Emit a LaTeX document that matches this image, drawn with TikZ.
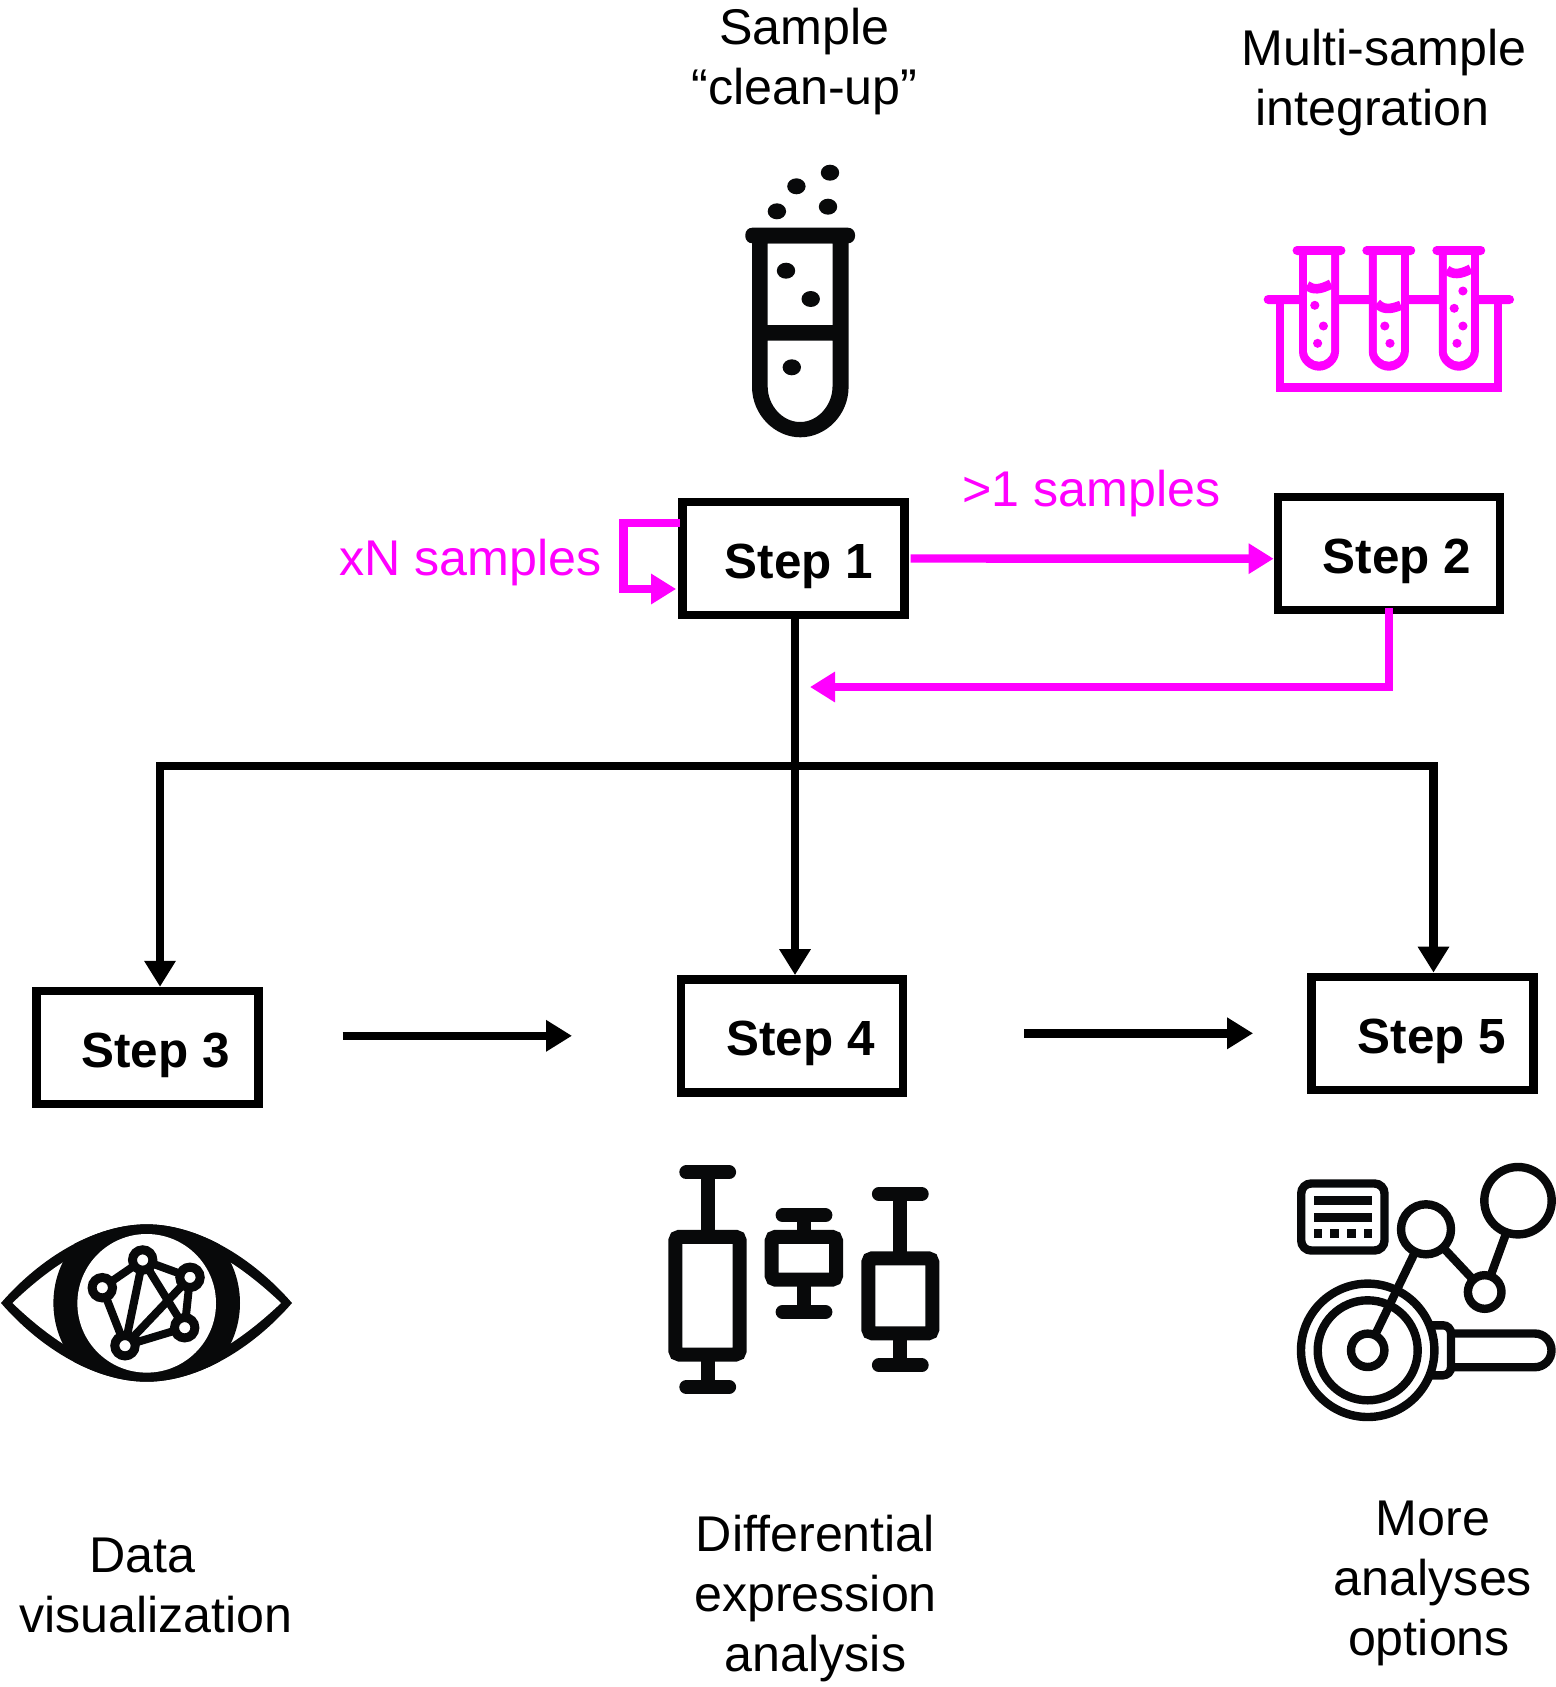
\documentclass[tikz,border=0pt]{standalone}
\usepackage{fontspec}
\setmainfont{Liberation Sans}
\usetikzlibrary{arrows.meta}
\definecolor{iconblack}{HTML}{08090A}
\definecolor{samplepink}{RGB}{255,0,255}
\tikzset{
  caption/.style = {align=center, inner sep=0pt, text=black,
    font=\fontsize{25.1pt}{30pt}\selectfont},
  pinktext/.style = {caption, text=samplepink, anchor=base west},
  stepbox/.style = {rectangle, draw=black, line width=4.2pt, inner sep=0pt,
    minimum width=111pt, minimum height=56.5pt, text height=24pt, text depth=4pt,
    font=\fontsize{24.7pt}{30pt}\selectfont\bfseries,
    execute at begin node={\hspace*{#1pt}}},% text sits right of centre
  flow/.style = {draw=black, line width=4.2pt, -{Triangle[length=13pt,width=15pt]}},
  pinkflow/.style = {draw=samplepink, line width=4.2pt, -{Triangle[length=12.5pt,width=14.5pt]}},
  icon/.style = {draw=iconblack, line width=4.2pt},
  whisker/.style = {draw=iconblack, line width=7pt, line cap=round}
}
\begin{document}
\begin{tikzpicture}[x=0.5pt,y=-0.5pt]
	\useasboundingbox (0,0) rectangle (1556,1687);
	% steps
	\node [stepbox=5.7] (step1) at (793.3,558.5) {Step 1};
	\node [stepbox=8] (step2) at (1388.8,553.2) {Step 2};
	\node [stepbox=8] (step3) at (147.4,1047.5) {Step 3};
	\node [stepbox=8.7] (step4) at (791.8,1035.8) {Step 4};
	\node [stepbox=9.5] (step5) at (1422.5,1033.3) {Step 5};
	% captions
	\node [caption] (cleanup) at (804.5,62) {Sample\\“clean-up”};
	\node [caption] (multi) at (1384,83) {Multi-sample\\integration\hspace*{11.5pt}};
	\node [caption] (dataviz) at (156,1585) {Data\hspace*{13.4pt}\\visualization};
	\node [caption] (diffexp) at (815.5,1599) {Differential\\expression\\analysis};
	\node [caption] (more) at (1433,1583) {More\\analyses\\options\hspace*{4pt}};
	\node [pinktext] (nsamples) at (339,575) {xN samples};
	\node [pinktext] (gtsamples) at (962,506.7) {>1 samples};
	% black connectors
	\coordinate (fork) at (795,766);
	\draw [flow] ([xshift=0.85pt]step1.south) -- ([xshift=1.6pt]step4.north);
	\draw [flow] (fork) -| ([xshift=6.3pt]step3.north);
	\draw [flow] (fork) -| ([xshift=5.5pt]step5.north);
	\draw [flow, shorten <=40pt, shorten >=52.3pt] (step3.east |- step4.west) -- (step4.west);
	\draw [flow, shorten <=58.5pt, shorten >=27.1pt] (step4.east |- step5.west) -- (step5.west);
	% pink connectors
	\coordinate (backin) at (810,687);
	\draw [pinkflow] ([xshift=1pt,yshift=17.75pt]step1.west) -- ++(-56.7,0) |- ([xshift=-1pt,yshift=-15.25pt]step1.west);
	\draw [pinkflow] ([xshift=1pt]step1.east) -- ([yshift=-2.75pt]step2.west);
	\draw [pinkflow] ([yshift=3pt]step2.south) |- (backin);
	% test tube
	\fill [iconblack, even odd rule] (752,243) -- (752,386.7) .. controls (752,415) and (775,437.3) .. (800.3,437.3)
		.. controls (826,437.3) and (848.6,415) .. (848.6,386.7) -- (848.6,243) -- cycle
		(767.7,243.3) rectangle (832.5,325)
		(767.7,340.7) -- (767.7,386.7) .. controls (767.7,405) and (782,422) .. (800.1,422)
		.. controls (818,422) and (832.5,405) .. (832.5,386.7) -- (832.5,340.7) -- cycle;
	\fill [iconblack, rounded corners=3.5pt] (745.3,227.7) rectangle (855,243.3);
	\foreach \bx/\by in {830/172.7, 796.4/186.3, 776.9/211.3, 828/206.7, 786/270.7, 810.7/299, 791.8/367.3}
		\fill [iconblack] (\bx,\by) ellipse (9.2 and 8);
	% rack of tubes
	\draw [samplepink, line width=4.4pt] (1280,300) -- (1280,387.2) -- (1498,387.2) -- (1498,300);
	\fill [samplepink, rounded corners=2.2pt] (1263.7,295) rectangle (1514,304);
	\foreach \tx/\bl/\bm/\br in {1319/285.7/288/284, 1388.8/303.3/307.8/305.3, 1458.8/270/272.8/269}
	{
		\begin{scope}[shift={(\tx,0)}]
			\fill [samplepink, rounded corners=2.2pt] (-26.4,246) rectangle (26.4,255);
			\fill [samplepink] (-20,254) -- (-20,351.7) .. controls (-20,362) and (-10,370.7) .. (0,370.7)
				.. controls (10,370.7) and (20,362) .. (20,351.7) -- (20,254) -- cycle;
			\fill [white] (-12,255) -- (-12,351.7) .. controls (-12,356) and (-6,361.7) .. (0,361.7)
				.. controls (6,361.7) and (12,356) .. (12,351.7) -- (12,255) -- cycle;
			\draw [samplepink, line width=4.8pt] (-12,\bl) .. controls (-6,\bm+2) and (1,\bm+2) .. (12,\br);
		\end{scope}
	}
	\foreach \bx/\by in {1314.8/305.3, 1323.4/326, 1317.6/343.3, 1384.8/326, 1390/343.3,
		1462.9/291, 1454.2/308.3, 1462.9/326, 1457/343.3}
		\fill [samplepink] (\bx,\by) ellipse (4.6 and 4.5);
	% eye
	\fill [iconblack] (1,1303) .. controls (40,1258) and (95,1224.3) .. (146.7,1224.3)
		.. controls (198,1224.3) and (253,1258) .. (292,1303)
		.. controls (253,1348) and (198,1381.7) .. (146.7,1381.7)
		.. controls (95,1381.7) and (40,1348) .. (1,1303) -- cycle;
	\fill [white] (12.5,1303) .. controls (50,1267) and (97,1234) .. (146.7,1234)
		.. controls (196,1234) and (243,1267) .. (281,1303)
		.. controls (243,1339) and (196,1372) .. (146.7,1372)
		.. controls (97,1372) and (50,1339) .. (12.5,1303) -- cycle;
	\begin{scope}
		\clip (1,1303) .. controls (40,1258) and (95,1224.3) .. (146.7,1224.3)
			.. controls (198,1224.3) and (253,1258) .. (292,1303)
			.. controls (253,1348) and (198,1381.7) .. (146.7,1381.7)
			.. controls (95,1381.7) and (40,1348) .. (1,1303) -- cycle;
		\fill [iconblack] (146.7,1303) circle (93.3);
	\end{scope}
	\fill [white] (146.7,1303.3) circle (69.3);
	\coordinate (pa) at (142.7,1260);
	\coordinate (pb) at (102.3,1287.7);
	\coordinate (pc) at (190,1277.3);
	\coordinate (pd) at (184.7,1327.7);
	\coordinate (pe) at (125,1345.7);
	\draw [icon, line width=4pt] (pa) -- (pb) -- (pe) -- (pd) -- (pc) -- (pa) -- (pe) -- (pc) (pa) -- (pd);
	\foreach \p in {pa,pb,pc,pd,pe}
		\draw [icon, line width=4.5pt, fill=white] (\p) circle (10.2);
	% box plots
	\foreach \bl/\br/\bt/\bb/\wx/\ct/\cb in {675.3/739.7/1236.8/1354.5/707.7/1172.3/1387,
		771.7/836/1236.8/1279.7/804/1215.3/1312, 868.3/932.3/1258.3/1333.3/900.3/1194/1365.3}
	{
		\draw [whisker, line cap=butt] (\wx,\ct) -- (\wx,\bt) (\wx,\bb) -- (\wx,\cb);
		\draw [whisker] ({\wx-21.4},\ct) -- ({\wx+21.4},\ct);
		\draw [whisker] ({\wx-21.4},\cb) -- ({\wx+21.4},\cb);
		\draw [whisker, line cap=butt, rounded corners=2pt] (\bl,\bt) rectangle (\br,\bb);
	}
	% analysis options
	\draw [icon, rounded corners=5pt] (1301.2,1183.5) rectangle (1384.5,1250.5);
	\fill [iconblack] (1313.7,1196) rectangle (1372.3,1205);
	\fill [iconblack] (1313.7,1212.7) rectangle (1372.3,1221.7);
	\foreach \sx in {1313.7,1330.3,1347,1363.7}
		\fill [iconblack] (\sx,1229.3) rectangle ++(8.7,9);
	\coordinate (lens) at (1367.7,1350.3);
	\coordinate (midspot) at (1426,1229.3);
	\coordinate (lowspot) at (1484.7,1292);
	\coordinate (topspot) at (1518,1200.7);
	\draw [icon] (lens) -- (midspot) -- (lowspot) -- (topspot);
	\draw [icon, fill=white] (midspot) circle (25);
	\draw [icon, fill=white] (lowspot) circle (16.8);
	\draw [icon, fill=white] (topspot) circle (33.7);
	\draw [icon, fill=white] (lens) circle (16.7);
	\draw [icon] (lens) circle (66.7);
	\draw [icon] (lens) circle (50);
	\draw [icon, rounded corners=4pt] (1429.3,1325.3) -- (1451,1325.3) -- (1451,1375.3) -- (1429.3,1375.3);
	\draw [icon, rounded corners=8.4pt] (1451,1333.5) -- (1551.5,1333.5) -- (1551.5,1367.2) -- (1451,1367.2);
\end{tikzpicture}
\end{document}
